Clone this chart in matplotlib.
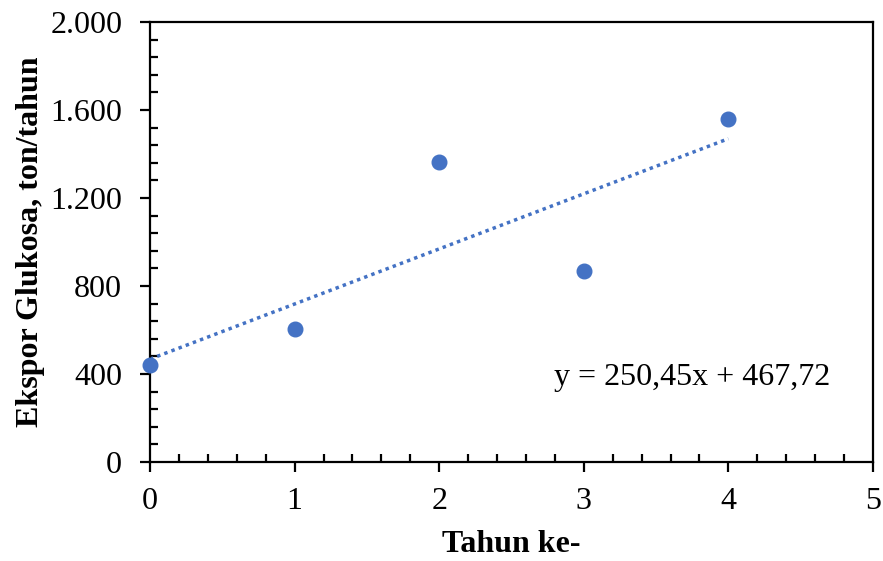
import numpy as np
import matplotlib.pyplot as plt
from matplotlib.ticker import MultipleLocator, FuncFormatter

# data
tahun = [0, 1, 2, 3, 4]
ekspor = [441, 604, 1363, 868, 1560]
slope = 250.45
intercept = 467.72

plt.rcParams['font.family'] = ['Liberation Serif', 'DejaVu Serif']

fig = plt.figure(figsize=(8.83, 5.61), dpi=100)
ax = fig.add_axes([150 / 883, 1 - 462 / 561, 723 / 883, 440 / 561])

color = '#4472C4'
x_fit = np.array([tahun[0], tahun[-1]])
ax.plot(x_fit, slope * x_fit + intercept, linestyle=(0, (1, 1.2)), color=color, linewidth=2.5)
ax.plot(tahun, ekspor, 'o', color=color, markersize=10.5, clip_on=False, zorder=3)

ax.set_xlim(0, 5)
ax.set_ylim(0, 2000)
ax.xaxis.set_major_locator(MultipleLocator(1))
ax.xaxis.set_minor_locator(MultipleLocator(0.2))
ax.yaxis.set_major_locator(MultipleLocator(400))
ax.yaxis.set_minor_locator(MultipleLocator(80))
ax.yaxis.set_major_formatter(FuncFormatter(lambda v, p: f'{v:,.0f}'.replace(',', '.')))

ax.tick_params(which='major', direction='out', length=7, width=1.6, labelsize=23)
ax.tick_params(axis='y', which='major', pad=13)
ax.tick_params(axis='x', which='major', pad=11)
ax.tick_params(which='minor', direction='in', length=6, width=1.6)
for s in ax.spines.values():
    s.set_linewidth(1.6)

ax.set_xlabel('Tahun ke-', fontsize=23, fontweight='bold', labelpad=10)
ax.set_ylabel('Ekspor Glukosa, ton/tahun', fontsize=23, fontweight='bold', labelpad=4)

ax.text(3.75, 382, 'y = 250,45x + 467,72', fontsize=23, ha='center', va='center')

fig.savefig('out.png', dpi=100)
